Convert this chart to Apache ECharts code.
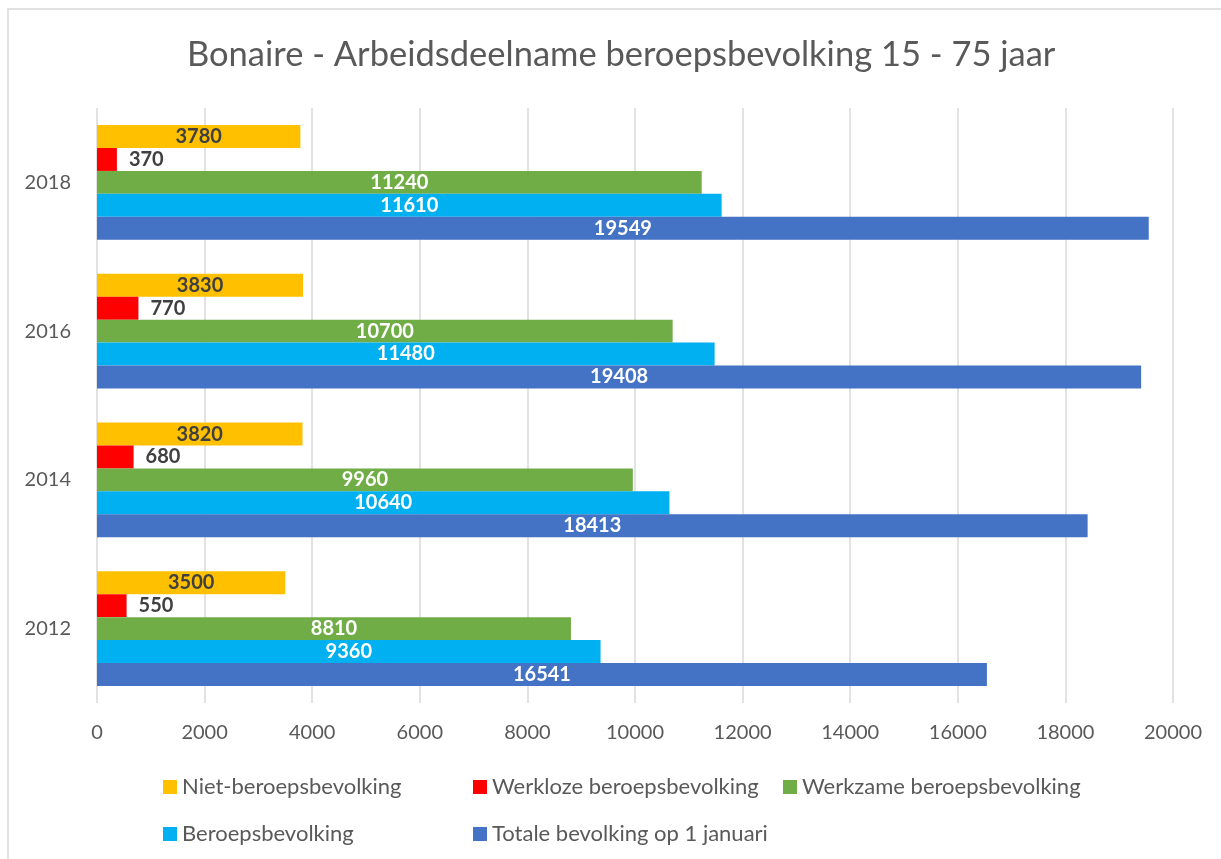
<!DOCTYPE html>
<html>
<head>
<meta charset="utf-8">
<script src="https://cdn.jsdelivr.net/npm/echarts@6/dist/echarts.min.js"></script>
<style>
  html, body { margin: 0; padding: 0; background: #fff; }
  #chart { width: 1221px; height: 859px; }
</style>
</head>
<body>
<div id="chart"></div>
<script>
  const years = ['2012', '2014', '2016', '2018'];
  const niet = [3500, 3820, 3830, 3780];
  const werkloze = [550, 680, 770, 370];
  const werkzame = [8810, 9960, 10700, 11240];
  const beroeps = [9360, 10640, 11480, 11610];
  const totale = [16541, 18413, 19408, 19549];
  const xTicks = [0, 2000, 4000, 6000, 8000, 10000, 12000, 14000, 16000, 18000, 20000];

  const font = 'Lato';
  const grey = '#595959';

  // one bar series, label inside or to the right
  function bar(name, data, color, labelColor, pos) {
    return {
      name: name,
      type: 'bar',
      data: data,
      barGap: '0%',
      barCategoryGap: '23%',
      itemStyle: { color: color },
      label: {
        show: true,
        position: pos || 'inside',
        color: labelColor,
        fontFamily: font,
        fontWeight: 'bold',
        fontSize: 20,
        distance: 12
      }
    };
  }

  // legend entries placed one by one
  function leg(name, left, top) {
    return {
      data: [name],
      left: left,
      top: top,
      padding: 0,
      icon: 'rect',
      itemWidth: 14,
      itemHeight: 14,
      itemGap: 6,
      textStyle: { color: grey, fontFamily: font, fontSize: 22 }
    };
  }

  const chart = echarts.init(document.getElementById('chart'));
  chart.setOption({
    animation: false,
    backgroundColor: '#fff',
    title: {
      text: 'Bonaire - Arbeidsdeelname beroepsbevolking 15 - 75 jaar',
      left: 182,
      top: 32,
      textStyle: { color: grey, fontFamily: font, fontWeight: 'normal', fontSize: 34.5 }
    },
    graphic: [{
      type: 'rect',
      shape: { x: 8, y: 9, width: 1400, height: 1000 },
      style: { fill: 'none', stroke: '#d9d9d9', lineWidth: 1.5 },
      silent: true
    }],
    legend: [
      leg('Niet-beroepsbevolking', 163, 776),
      leg('Werkloze beroepsbevolking', 473, 776),
      leg('Werkzame beroepsbevolking', 783, 776),
      leg('Beroepsbevolking', 163, 823),
      leg('Totale bevolking op 1 januari', 473, 823)
    ],
    grid: { left: 97, right: 48, top: 108, bottom: 156, containLabel: false },
    xAxis: {
      type: 'value',
      min: xTicks[0],
      max: xTicks[xTicks.length - 1],
      interval: 2000,
      axisLine: { show: false },
      axisTick: { show: false },
      axisLabel: { color: grey, fontFamily: font, fontSize: 20, margin: 20, formatter: v => String(v) },
      splitLine: { lineStyle: { color: '#d9d9d9', width: 1.5 } }
    },
    yAxis: {
      type: 'category',
      data: years,
      axisLine: { show: false },
      axisTick: { show: false },
      axisLabel: { color: grey, fontFamily: font, fontSize: 20, margin: 26 }
    },
    series: [
      bar('Niet-beroepsbevolking', niet, '#FFC000', '#404040'),
      bar('Werkloze beroepsbevolking', werkloze, '#FF0000', '#404040', 'right'),
      bar('Werkzame beroepsbevolking', werkzame, '#70AD47', '#fff'),
      bar('Beroepsbevolking', beroeps, '#00B0F0', '#fff'),
      bar('Totale bevolking op 1 januari', totale, '#4472C4', '#fff')
    ]
  });
</script>
</body>
</html>
